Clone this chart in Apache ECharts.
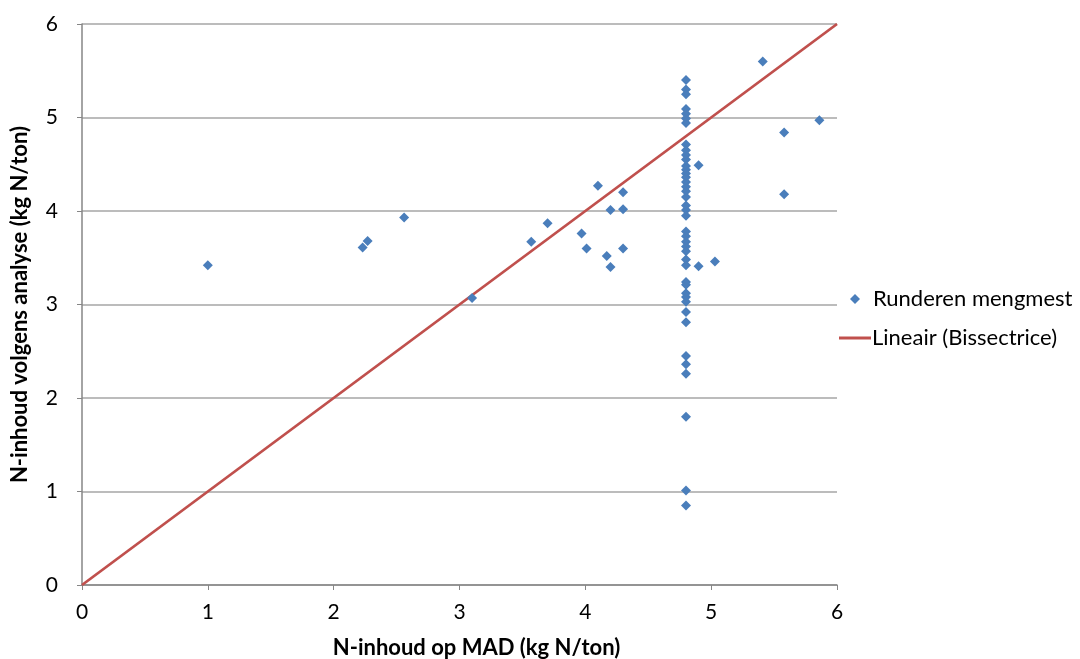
<!DOCTYPE html>
<html>
<head>
<meta charset="utf-8">
<script src="https://cdn.jsdelivr.net/npm/echarts@6/dist/echarts.min.js"></script>
<style>html,body{margin:0;padding:0;background:#fff}#c{width:1080px;height:659px}</style>
</head>
<body>
<div id="c"></div>
<script>
// Runderen mengmest: N-inhoud op MAD (x) vs volgens analyse (y)
const scatterX = [1.00, 2.23, 2.27, 2.56, 3.10, 3.57, 3.70, 3.97, 4.01, 4.10, 4.17, 4.20, 4.20, 4.30, 4.30, 4.30,
  4.90, 4.90, 5.03, 5.41, 5.58, 5.58, 5.86];
const scatterY = [3.42, 3.61, 3.68, 3.93, 3.07, 3.67, 3.87, 3.76, 3.60, 4.27, 3.52, 4.01, 3.40, 4.20, 4.02, 3.60,
  4.49, 3.41, 3.46, 5.60, 4.84, 4.18, 4.97];
const columnX = 4.80;
const columnY = [5.40, 5.30, 5.25, 5.09, 5.04, 4.99, 4.94, 4.71, 4.65, 4.60, 4.55, 4.48, 4.44, 4.40, 4.36, 4.31,
  4.26, 4.21, 4.15, 4.06, 4.01, 3.95, 3.78, 3.73, 3.67, 3.62, 3.57, 3.48, 3.42, 3.24, 3.21, 3.12, 3.08, 3.03,
  2.92, 2.81, 2.45, 2.36, 2.26, 1.80, 1.01, 0.85];
const lineX = [0, 6];
const lineY = [0, 6];
const axisTicks = [0, 1, 2, 3, 4, 5, 6];

const pts = scatterX.map((x, i) => [x, scatterY[i]]).concat(columnY.map(y => [columnX, y]));
const linePts = lineX.map((x, i) => [x, lineY[i]]);
const FONT = 'Lato';

const chart = echarts.init(document.getElementById('c'));
chart.setOption({
  animation: false,
  textStyle: {fontFamily: FONT},
  grid: {left: 82, right: 243, top: 24, bottom: 74, containLabel: false, outerBoundsMode: 'none'},
  xAxis: {
    type: 'value', min: axisTicks[0], max: axisTicks[axisTicks.length - 1], interval: 1,
    name: 'N-inhoud op MAD (kg N/ton)', nameLocation: 'middle', nameGap: 52,
    nameTextStyle: {fontFamily: FONT, fontSize: 22, fontWeight: 'bold', color: '#000', padding: [0, 0, 0, 34]},
    axisLine: {show: true, lineStyle: {color: '#868686', width: 1.5}},
    axisTick: {show: true, length: 5, lineStyle: {color: '#868686'}},
    axisLabel: {fontFamily: FONT, fontSize: 21, color: '#000', margin: 17},
    splitLine: {show: false}
  },
  yAxis: {
    type: 'value', min: axisTicks[0], max: axisTicks[axisTicks.length - 1], interval: 1,
    name: 'N-inhoud volgens analyse (kg N/ton)', nameLocation: 'middle', nameGap: 51,
    nameTextStyle: {fontFamily: FONT, fontSize: 22, fontWeight: 'bold', color: '#000'},
    axisLine: {show: true, lineStyle: {color: '#868686', width: 1.5}},
    axisTick: {show: true, length: 5, lineStyle: {color: '#868686'}},
    axisLabel: {fontFamily: FONT, fontSize: 21, color: '#000', margin: 24},
    splitLine: {show: true, lineStyle: {color: '#a6a6a6', width: 1.5}}
  },
  legend: [{
    data: [{name: 'Runderen mengmest', icon: 'diamond'}],
    left: 845, top: 283, itemWidth: 10, itemHeight: 10,
    textStyle: {fontFamily: FONT, fontSize: 22, color: '#000', padding: [0, 0, 0, 8]}
  }, {
    data: [{name: 'Lineair (Bissectrice)', icon: 'rect'}],
    left: 834, top: 322, itemWidth: 32, itemHeight: 3,
    textStyle: {fontFamily: FONT, fontSize: 22, color: '#000', padding: [0, 0, 0, -4]}
  }],
  series: [{
    name: 'Lineair (Bissectrice)', type: 'line', data: linePts, showSymbol: false, symbol: 'none',
    lineStyle: {color: '#c0504d', width: 2.8}, itemStyle: {color: '#c0504d'}, z: 2
  }, {
    name: 'Runderen mengmest', type: 'scatter', data: pts, symbol: 'diamond', symbolSize: 10,
    itemStyle: {color: '#4a7ebb', opacity: 1}, z: 3
  }]
});
</script>
</body>
</html>
